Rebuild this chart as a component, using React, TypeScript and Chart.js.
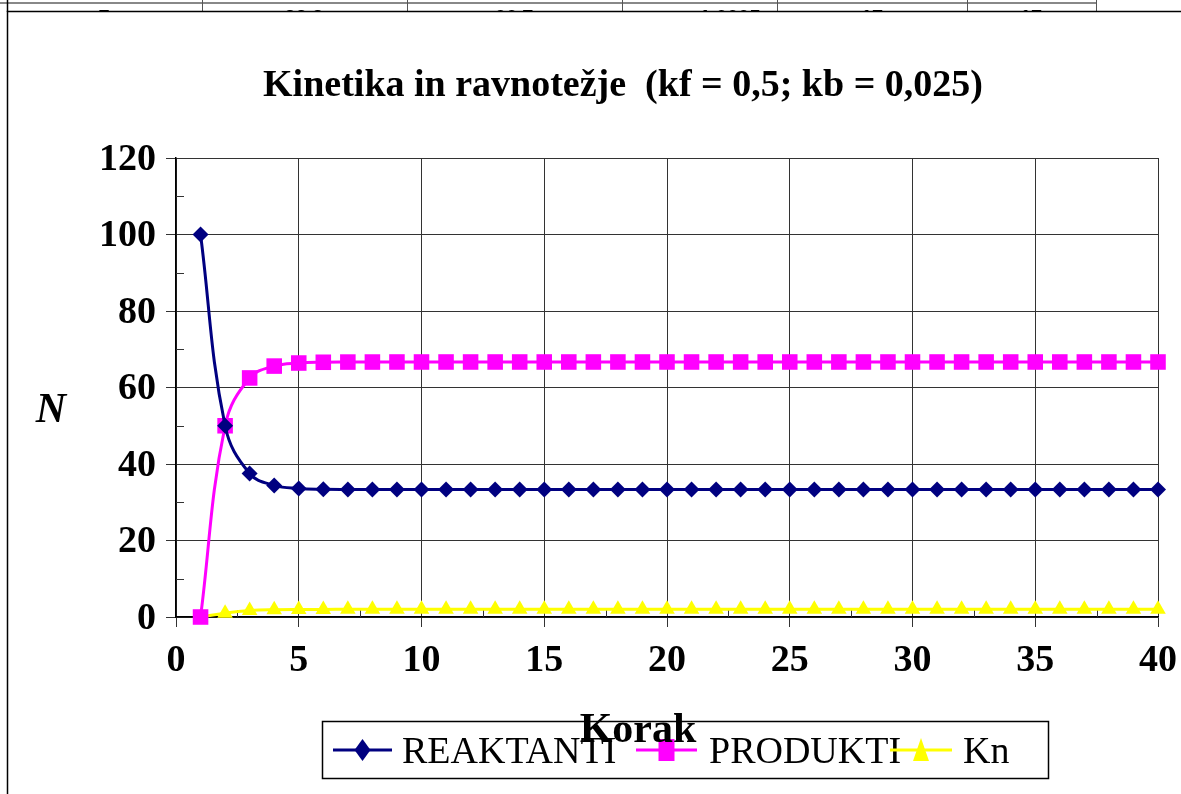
import React, { useEffect, useRef } from "react";
import { Chart, registerables } from "chart.js";

Chart.register(...registerables);

const TITLE = "Kinetika in ravnotežje  (kf = 0,5; kb = 0,025)";
const X_TITLE = "Korak";
const Y_TITLE = "N";

const STEPS = [1, 2, 3, 4, 5, 6, 7, 8, 9, 10, 11, 12, 13, 14, 15, 16, 17, 18, 19, 20,
  21, 22, 23, 24, 25, 26, 27, 28, 29, 30, 31, 32, 33, 34, 35, 36, 37, 38, 39, 40];

const REAKTANTI = [100, 50, 37.5, 34.4, 33.6, 33.4, 33.35, 33.34, 33.33, 33.33,
  33.33, 33.33, 33.33, 33.33, 33.33, 33.33, 33.33, 33.33, 33.33, 33.33,
  33.33, 33.33, 33.33, 33.33, 33.33, 33.33, 33.33, 33.33, 33.33, 33.33,
  33.33, 33.33, 33.33, 33.33, 33.33, 33.33, 33.33, 33.33, 33.33, 33.33];

const PRODUKTI = [0, 50, 62.5, 65.6, 66.4, 66.6, 66.65, 66.66, 66.67, 66.67,
  66.67, 66.67, 66.67, 66.67, 66.67, 66.67, 66.67, 66.67, 66.67, 66.67,
  66.67, 66.67, 66.67, 66.67, 66.67, 66.67, 66.67, 66.67, 66.67, 66.67,
  66.67, 66.67, 66.67, 66.67, 66.67, 66.67, 66.67, 66.67, 66.67, 66.67];

const KN = [0, 1, 1.67, 1.91, 1.98, 1.99, 2, 2, 2, 2,
  2, 2, 2, 2, 2, 2, 2, 2, 2, 2,
  2, 2, 2, 2, 2, 2, 2, 2, 2, 2,
  2, 2, 2, 2, 2, 2, 2, 2, 2, 2];

const TABLE_CELLS = ["7", "33.3", "66.7", "1.0005", "17", "17"];
const TABLE_CENTERS = [104, 304, 514, 730, 872, 1031];
const TABLE_LINES = [202, 407, 622, 777, 967, 1096];

const NAVY = "#000080";
const MAGENTA = "#FF00FF";
const YELLOW = "#FFFF00";
const SERIF = "'Liberation Serif', 'Times New Roman', serif";

const decorPlugin = {
  id: "decor",
  beforeDraw(chart: any) {
    const ctx = chart.ctx;
    ctx.save();
    ctx.fillStyle = "#fff";
    ctx.fillRect(0, 0, chart.width, chart.height);
    // cut-off table row at the very top
    ctx.save();
    ctx.beginPath();
    ctx.rect(0, 0, chart.width, 11);
    ctx.clip();
    ctx.strokeStyle = "#888";
    ctx.lineWidth = 2;
    ctx.beginPath();
    ctx.moveTo(0, 3);
    ctx.lineTo(1096, 3);
    ctx.stroke();
    ctx.strokeStyle = "#555";
    ctx.lineWidth = 1;
    TABLE_LINES.forEach((x) => {
      ctx.beginPath();
      ctx.moveTo(x + 0.5, 0);
      ctx.lineTo(x + 0.5, 11);
      ctx.stroke();
    });
    ctx.fillStyle = "#000";
    ctx.font = "bold 20px 'Liberation Sans', Arial, sans-serif";
    ctx.textAlign = "center";
    ctx.textBaseline = "alphabetic";
    TABLE_CELLS.forEach((t, i) => ctx.fillText(t, TABLE_CENTERS[i], 24));
    ctx.restore();
    // frame
    ctx.strokeStyle = "#000";
    ctx.lineWidth = 1.5;
    ctx.beginPath();
    ctx.moveTo(chart.width, 11.5);
    ctx.lineTo(7.5, 11.5);
    ctx.lineTo(7.5, chart.height);
    ctx.stroke();
    ctx.beginPath();
    ctx.moveTo(7.5, 0);
    ctx.lineTo(7.5, 12);
    ctx.stroke();
    ctx.restore();
  },
  beforeDatasetsDraw(chart: any) {
    const ctx = chart.ctx;
    const xs = chart.scales.x;
    const ys = chart.scales.y;
    ctx.save();
    ctx.strokeStyle = "#333";
    ctx.lineWidth = 1;
    for (let v = 10; v < 120; v += 20) {
      const y = Math.round(ys.getPixelForValue(v)) + 0.5;
      ctx.beginPath();
      ctx.moveTo(xs.left, y);
      ctx.lineTo(xs.left + 8, y);
      ctx.stroke();
    }
    for (let v = 2.5; v < 40; v += 5) {
      const x = Math.round(xs.getPixelForValue(v)) + 0.5;
      ctx.beginPath();
      ctx.moveTo(x, ys.bottom);
      ctx.lineTo(x, ys.bottom - 7);
      ctx.stroke();
    }
    ctx.restore();
  },
  afterDraw(chart: any) {
    const ctx = chart.ctx;
    ctx.save();
    ctx.fillStyle = "#000";
    ctx.textAlign = "center";
    ctx.textBaseline = "alphabetic";
    ctx.font = `bold 38px ${SERIF}`;
    ctx.fillText(TITLE, 623, 96);
    ctx.font = `italic bold 42px ${SERIF}`;
    ctx.fillText(Y_TITLE, 51, 422);

    // legend box
    const bx = 322, by = 721, bw = 726, bh = 57;
    ctx.fillStyle = "#fff";
    ctx.fillRect(bx, by, bw, bh);
    ctx.strokeStyle = "#000";
    ctx.lineWidth = 1.5;
    ctx.strokeRect(bx + 0.5, by + 0.5, bw, bh);
    const ly = 750;
    const items = [
      { label: "REAKTANTI", color: NAVY, shape: "diamond", x0: 333, x1: 392, tx: 402 },
      { label: "PRODUKTI", color: MAGENTA, shape: "square", x0: 636, x1: 697, tx: 709 },
      { label: "Kn", color: YELLOW, shape: "triangle", x0: 890, x1: 952, tx: 963 },
    ];
    items.forEach((it) => {
      ctx.strokeStyle = it.color;
      ctx.lineWidth = 3;
      ctx.beginPath();
      ctx.moveTo(it.x0, ly);
      ctx.lineTo(it.x1, ly);
      ctx.stroke();
      const cx = (it.x0 + it.x1) / 2;
      ctx.fillStyle = it.color;
      ctx.beginPath();
      if (it.shape === "diamond") {
        ctx.moveTo(cx, ly - 11);
        ctx.lineTo(cx + 8, ly);
        ctx.lineTo(cx, ly + 11);
        ctx.lineTo(cx - 8, ly);
      } else if (it.shape === "square") {
        ctx.rect(cx - 8, ly - 11, 16, 22);
      } else {
        ctx.moveTo(cx, ly - 12);
        ctx.lineTo(cx + 8, ly + 11);
        ctx.lineTo(cx - 8, ly + 11);
      }
      ctx.closePath();
      ctx.fill();
      ctx.fillStyle = "#000";
      ctx.textAlign = "left";
      ctx.font = `38px ${SERIF}`;
      ctx.fillText(it.label, it.tx, 763);
    });
    ctx.textAlign = "center";
    ctx.font = `bold 42px ${SERIF}`;
    ctx.fillText(X_TITLE, 638, 742);
    ctx.restore();
  },
};

export default function App() {
  const ref = useRef<HTMLCanvasElement | null>(null);
  useEffect(() => {
    document.body.style.margin = "0";
    const canvas = ref.current!;
    const mk = (vals: number[]) => STEPS.map((s, i) => ({ x: s, y: vals[i] }));
    const tickFont = { family: SERIF, size: 38, weight: "bold" as const };
    const chart = new Chart(canvas, {
      type: "line",
      data: {
        datasets: [
          {
            label: "REAKTANTI",
            data: mk(REAKTANTI),
            borderColor: NAVY,
            backgroundColor: NAVY,
            borderWidth: 3,
            pointStyle: "rectRot",
            pointRadius: 8,
            pointBorderWidth: 0,
            tension: 0.4,
            clip: false as any,
          },
          {
            label: "PRODUKTI",
            data: mk(PRODUKTI),
            borderColor: MAGENTA,
            backgroundColor: MAGENTA,
            borderWidth: 3,
            pointStyle: "rect",
            pointRadius: 11,
            pointBorderWidth: 0,
            tension: 0.4,
            clip: false as any,
          },
          {
            label: "Kn",
            data: mk(KN),
            borderColor: YELLOW,
            backgroundColor: YELLOW,
            borderWidth: 3,
            pointStyle: "triangle",
            pointRadius: 9,
            pointBorderWidth: 0,
            tension: 0.4,
            clip: false as any,
          },
        ],
      },
      options: {
        animation: false,
        responsive: false,
        events: [],
        layout: { padding: { top: 158, right: 23, left: 0, bottom: 0 } },
        plugins: { legend: { display: false }, title: { display: false }, tooltip: { enabled: false } },
        scales: {
          x: {
            type: "linear",
            min: 0,
            max: 40,
            ticks: { stepSize: 5, font: tickFont, color: "#000", padding: 11, maxRotation: 0 },
            grid: { color: "#333", lineWidth: 1, tickLength: 10, tickColor: "#333" },
            border: { color: "#000", width: 1.5 },
            afterFit(s: any) { s.height = 177; s.paddingLeft = 0; s.paddingRight = 0; },
          },
          y: {
            min: 0,
            max: 120,
            ticks: { stepSize: 20, font: tickFont, color: "#000", padding: 10, labelOffset: 2 },
            grid: { color: "#333", lineWidth: 1, tickLength: 10, tickColor: "#333" },
            border: { color: "#000", width: 1.5 },
            afterFit(s: any) { s.width = 176; s.paddingTop = 0; s.paddingBottom = 0; },
          },
        },
      },
      plugins: [decorPlugin],
    });
    return () => chart.destroy();
  }, []);
  return <canvas ref={ref} width={1181} height={794} style={{ display: "block" }} />;
}
